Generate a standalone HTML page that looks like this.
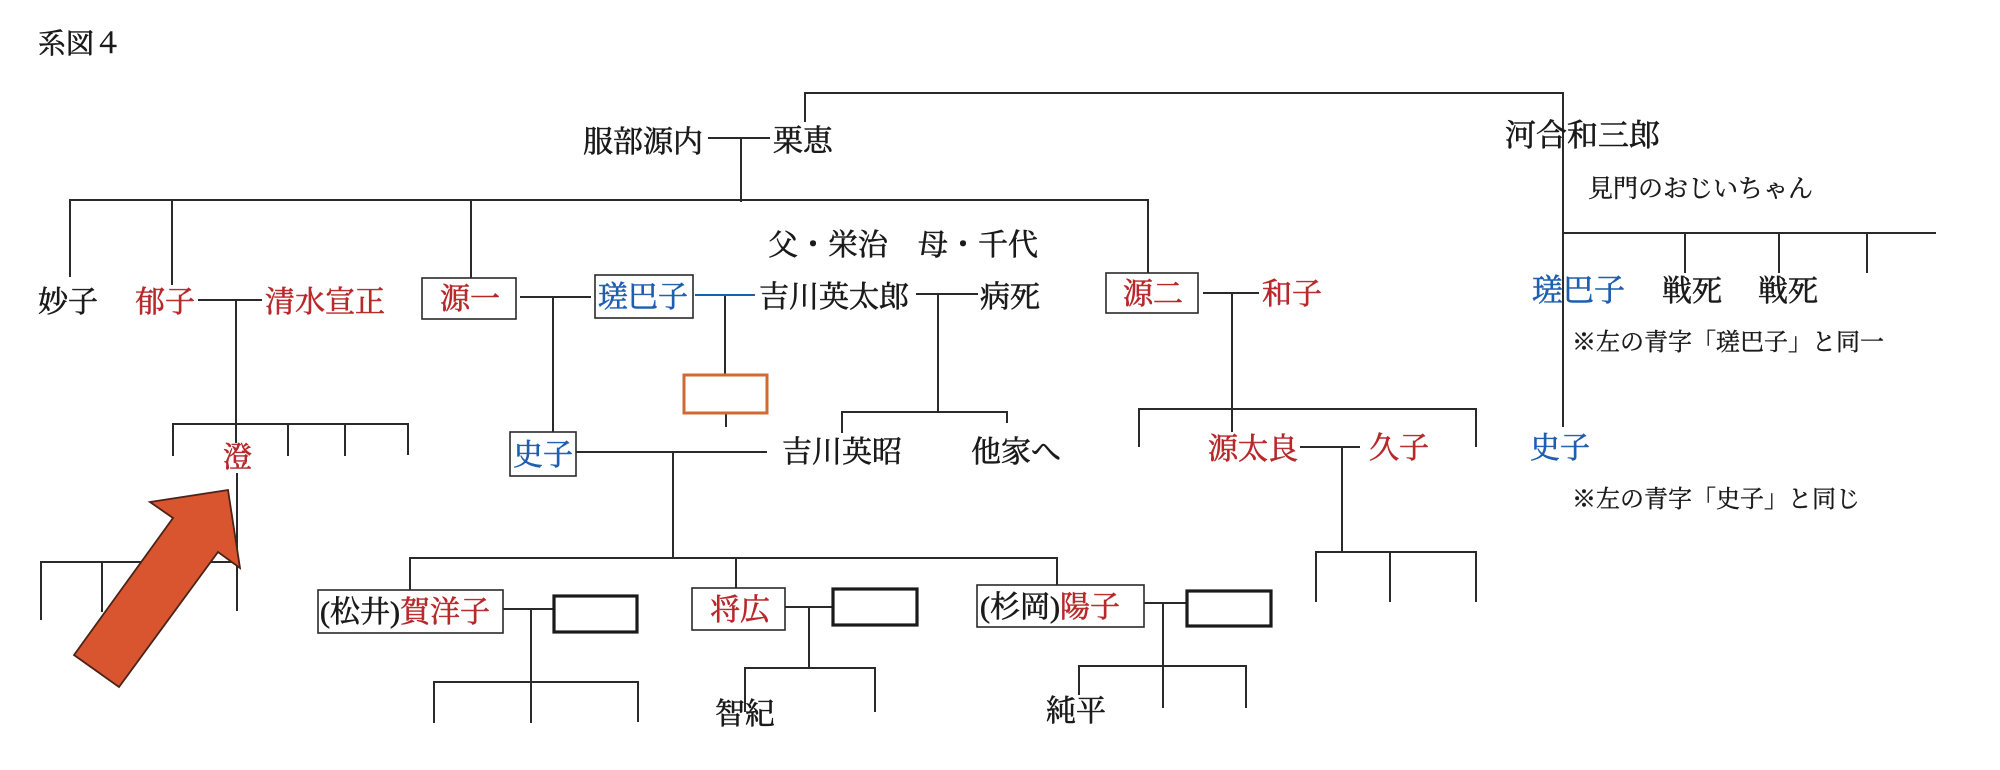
<!DOCTYPE html>
<html lang="ja">
<head>
<meta charset="utf-8">
<style>
html,body{margin:0;padding:0;background:#fff;}
svg{display:block;}
text{font-family:"Liberation Serif","Noto Serif CJK SC","Noto Serif CJK JP",serif;}
</style>
</head>
<body>
<svg width="2000" height="770" viewBox="0 0 2000 770" xmlns="http://www.w3.org/2000/svg">
<rect width="2000" height="770" fill="#fff"/>
<g fill="none" stroke="#2a2a2a" stroke-width="2">
  <!-- top connector to 河合和三郎 -->
  <path d="M805,122 V93 H1563 V427"/>
  <!-- 服部源内 — 栗恵 -->
  <path d="M708,138 H770 M741,138 V202"/>
  <!-- main sibling line -->
  <path d="M70,277 V200 H1148 V273 M172,200 V285 M471,200 V278"/>
  <!-- 郁子 — 清水宣正 -->
  <path d="M198,300 H262 M236,300 V443 M237,473 V611"/>
  <path d="M173,456 V424 H408 V455 M288,424 V456 M345,424 V456"/>
  <!-- lower-left -->
  <path d="M41,620 V562 H237 M102,562 V612 M165,562 V612"/>
  <!-- 源一 — 瑳巴子 -->
  <path d="M520,297 H591 M553,297 V433"/>
  <path d="M725,295 V375 M726,413 V427"/>
  <!-- 吉川英太郎 — 病死 -->
  <path d="M916,294 H978 M938,294 V412 M842,433 V412 H1007 V423"/>
  <!-- 史子 -->
  <path d="M576,452 H767 M673,452 V557 M410,591 V558 H1057 V585 M736,558 V588"/>
  <!-- 賀洋子 -->
  <path d="M503,609 H553 M531,609 V723 M434,723 V682 H638 V722"/>
  <!-- 将広 -->
  <path d="M785,607 H832 M809,607 V668 M745,712 V668 H875 V712"/>
  <!-- 陽子 -->
  <path d="M1144,603 H1186 M1163,603 V708 M1079,695 V666 H1246 V708"/>
  <!-- 源二 — 和子 -->
  <path d="M1203,293 H1259 M1232,293 V432 M1139,447 V409 H1476 V447"/>
  <!-- 源太良 — 久子 -->
  <path d="M1300,447 H1360 M1342,447 V552 M1316,602 V552 H1476 V602 M1390,552 V602"/>
  <!-- right side -->
  <path d="M1563,233 H1936 M1685,233 V273 M1779,233 V273 M1867,233 V273"/>
</g>
<!-- blue connector -->
<path d="M695,295 H755" stroke="#1d5eb0" stroke-width="2" fill="none"/>
<!-- boxes -->
<g fill="#fff" stroke="#2a2a2a" stroke-width="1.6">
  <rect x="422" y="278" width="94" height="41"/>
  <rect x="595" y="275" width="98" height="43"/>
  <rect x="1106" y="273" width="92" height="40"/>
  <rect x="510" y="432" width="66" height="44"/>
  <rect x="318" y="590" width="185" height="43"/>
  <rect x="692" y="588" width="93" height="42"/>
  <rect x="977" y="585" width="167" height="42"/>
</g>
<g fill="none" stroke="#1a1a1a" stroke-width="3.2">
  <rect x="554" y="596" width="83" height="36"/>
  <rect x="833" y="589" width="84" height="36"/>
  <rect x="1187" y="591" width="84" height="35"/>
</g>
<rect x="684" y="375" width="83" height="38" fill="none" stroke="#cf6a34" stroke-width="3"/>
<!-- arrow -->
<polygon points="150,502 228,490 240,568 218,552 119,687 74,655 173,518" fill="#d9552f" stroke="#4a2418" stroke-width="1.8" stroke-linejoin="miter"/>
<!-- texts -->
<g font-size="30" fill="#1a1a1a" stroke="#1a1a1a" stroke-width="0.6">
  <text x="38" y="53" font-size="28">系図４</text>
  <text x="583" y="152">服部源内</text>
  <text x="773" y="151">栗恵</text>
  <text x="1505" y="146" font-size="31">河合和三郎</text>
  <text x="1588" y="197" font-size="25" stroke-width="0.4">見門のおじいちゃん</text>
  <text x="768" y="255">父・栄治　母・千代</text>
  <text x="38" y="312">妙子</text>
  <text x="135" y="312" fill="#b8282a" stroke="#b8282a">郁子</text>
  <text x="265" y="312" fill="#b8282a" stroke="#b8282a">清水宣正</text>
  <text x="440" y="309" fill="#b8282a" stroke="#b8282a">源一</text>
  <text x="598" y="307" fill="#1d5eb0" stroke="#1d5eb0">瑳巴子</text>
  <text x="759" y="307">吉川英太郎</text>
  <text x="980" y="307">病死</text>
  <text x="1123" y="304" fill="#b8282a" stroke="#b8282a">源二</text>
  <text x="1262" y="304" fill="#b8282a" stroke="#b8282a">和子</text>
  <text x="1532" y="301" font-size="31" fill="#1d5eb0" stroke="#1d5eb0">瑳巴子</text>
  <text x="1662" y="301">戦死</text>
  <text x="1758" y="301">戦死</text>
  <text x="1572" y="350" font-size="24" stroke-width="0.4">※左の青字「瑳巴子」と同一</text>
  <text x="223" y="467" font-size="29" fill="#b8282a" stroke="#b8282a">澄</text>
  <text x="513" y="465" fill="#1d5eb0" stroke="#1d5eb0">史子</text>
  <text x="782" y="462">吉川英昭</text>
  <text x="971" y="462">他家へ</text>
  <text x="1208" y="459" fill="#b8282a" stroke="#b8282a">源太良</text>
  <text x="1369" y="458" fill="#b8282a" stroke="#b8282a">久子</text>
  <text x="1530" y="458" fill="#1d5eb0" stroke="#1d5eb0">史子</text>
  <text x="1572" y="507" font-size="24" stroke-width="0.4">※左の青字「史子」と同じ</text>
  <text x="320" y="622">(松井)<tspan fill="#b8282a" stroke="#b8282a">賀洋子</tspan></text>
  <text x="710" y="620" fill="#b8282a" stroke="#b8282a">将広</text>
  <text x="980" y="617">(杉岡)<tspan fill="#b8282a" stroke="#b8282a">陽子</tspan></text>
  <text x="715" y="724">智紀</text>
  <text x="1046" y="721">純平</text>
</g>
</svg>
</body>
</html>
